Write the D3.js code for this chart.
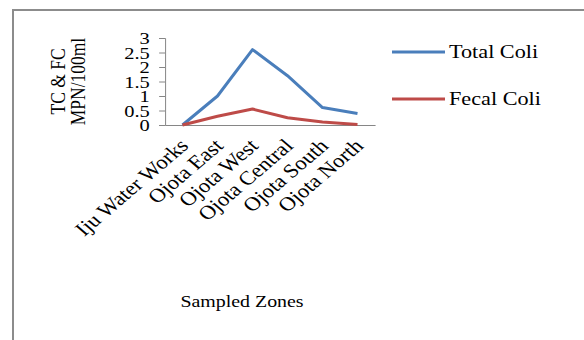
<!DOCTYPE html>
<html>
<head>
<meta charset="utf-8">
<script src="https://cdn.jsdelivr.net/npm/d3@7"></script>
<style>
  body { margin: 0; background: #fff; }
  svg { display: block; }
  text { font-family: "Liberation Serif", "Times New Roman", serif; fill: #000; }
  .domain, .tick line { stroke: #868686; vector-effect: non-scaling-stroke; }
  .line { fill: none; stroke-width: 3; stroke-linejoin: round; vector-effect: non-scaling-stroke; }
</style>
</head>
<body>
<div id="chart"></div>
<script>
// Data
const zones = ['Iju Water Works', 'Ojota East', 'Ojota West', 'Ojota Central', 'Ojota South', 'Ojota North'];
const totalColi = [0, 1.0, 2.6, 1.7, 0.6, 0.4];
const fecalColi = [0, 0.3, 0.55, 0.25, 0.1, 0.02];
const yTicks = [0, 0.5, 1, 1.5, 2, 2.5, 3];
const seriesNames = ['Total Coli', 'Fecal Coli'];
const seriesColors = ['#4a7ebb', '#be4b48'];

// The original picture is stretched sideways, so draw narrow and stretch the svg
const stretch = 1.17;
const outWidth = 584, outHeight = 340;
const width = outWidth / stretch;
const margin = {top: 38, left: 165 / stretch};
const chartWidth = 210 / stretch;
const chartHeight = 87;

const svg = d3.select('#chart').append('svg')
    .attr('width', outWidth)
    .attr('height', outHeight)
    .attr('viewBox', [0, 0, width, outHeight])
    .attr('preserveAspectRatio', 'none');

// Frame (only top and left edges fall inside the picture)
svg.append('path')
    .attr('d', `M${width + 5},10 H${13 / stretch} V${outHeight + 5}`)
    .attr('fill', 'none')
    .attr('stroke', '#8c8c8c')
    .attr('stroke-width', 2)
    .style('vector-effect', 'non-scaling-stroke');

const chart = svg.append('g')
    .attr('transform', `translate(${margin.left}, ${margin.top})`);

const xScale = d3.scaleBand()
    .domain(zones)
    .range([0, chartWidth]);

const yScale = d3.scaleLinear()
    .domain([0, 3])
    .range([chartHeight, 0]);

// Axes
const yAxisGroup = chart.append('g')
    .call(d3.axisLeft(yScale).tickValues(yTicks).tickFormat(d3.format('')).tickSize(5).tickPadding(8));
yAxisGroup.selectAll('.tick text').style('font-size', '17.5px');

const xAxisGroup = chart.append('g')
    .attr('transform', `translate(0, ${chartHeight})`)
    .call(d3.axisBottom(xScale).tickSize(0).tickPadding(0));
xAxisGroup.selectAll('.tick text')
    .style('font-size', '19.5px')
    .attr('text-anchor', 'end')
    .attr('y', 0)
    .attr('dy', 0)
    .attr('transform', 'translate(6, 22) rotate(-45)');

// Axis titles
const yTitle = svg.append('text')
    .attr('transform', `translate(${65 / stretch}, ${margin.top + chartHeight / 2}) rotate(-90)`)
    .attr('text-anchor', 'middle')
    .style('font-size', '17.5px');
yTitle.append('tspan').attr('x', 0).attr('dy', 0).text('TC & FC');
yTitle.append('tspan').attr('x', 0).attr('dy', 17).text('MPN/100ml');

svg.append('text')
    .attr('x', 242 / stretch)
    .attr('y', 307)
    .attr('text-anchor', 'middle')
    .style('font-size', '17px')
    .text('Sampled Zones');

// Lines
const lineGenerator = d3.line()
    .x((d, i) => xScale(zones[i]) + xScale.bandwidth() / 2)
    .y(d => yScale(d));

const seriesData = [totalColi, fecalColi];
chart.selectAll('.line').data(seriesData)
    .enter().append('path')
    .attr('class', 'line')
    .attr('stroke', (d, i) => seriesColors[i])
    .attr('d', d => lineGenerator(d));

// Legend
const legend = svg.append('g')
    .attr('transform', `translate(${392 / stretch}, 52)`);
const legendItems = legend.selectAll('g').data(seriesNames)
    .enter().append('g')
    .attr('transform', (d, i) => `translate(0, ${i * 47})`);
legendItems.append('line')
    .attr('x1', 0)
    .attr('x2', 53 / stretch)
    .attr('stroke', (d, i) => seriesColors[i])
    .attr('stroke-width', 3)
    .style('vector-effect', 'non-scaling-stroke');
legendItems.append('text')
    .attr('x', 57 / stretch)
    .attr('dy', 6)
    .style('font-size', '19px')
    .text(d => d);
</script>
</body>
</html>
